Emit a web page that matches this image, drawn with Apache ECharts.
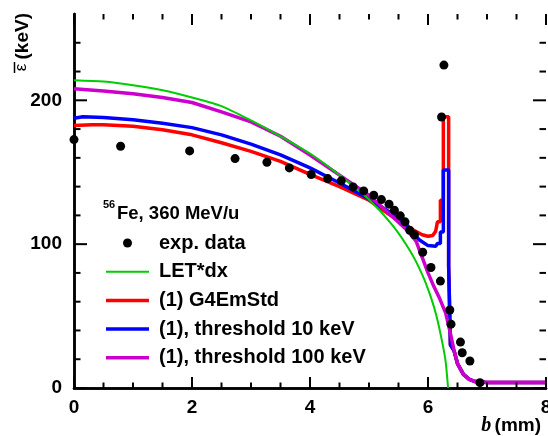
<!DOCTYPE html>
<html><head><meta charset="utf-8">
<script src="https://cdn.jsdelivr.net/npm/echarts@6/dist/echarts.min.js"></script>
<style>html,body{margin:0;padding:0;background:#fff}#c{width:548px;height:436px}</style>
</head><body><div id="c"></div>
<script>
// ---- data ----
const expB = [0.00,0.79,1.96,2.73,3.27,3.65,4.02,4.30,4.53,4.73,4.91,5.08,5.21,5.34,5.43,5.53,5.61,5.69,5.77,5.91,6.05,6.21,6.23,6.27,6.37,6.39,6.55,6.58,6.71,6.88];
const expV = [172.7,168.1,164.8,159.5,156.9,153.0,148.4,145.6,144.0,139.8,137.0,134.0,131.0,127.8,123.6,119.7,115.5,109.7,106.5,94.4,83.8,74.3,188.4,224.5,54.2,44.4,31.9,24.5,18.8,3.7];

const letB = [0,0.5,1.0,1.5,2.0,2.5,3.0,3.5,4.0,4.5,5.0,5.4,5.7,5.9,6.05,6.15,6.25,6.3,6.34];
const letV = [214,213,210.5,207,202,196,186,175,163,148,131,113,95,79,63,49,30,18,0];

const stdB = [0,0.3,0.5,1.0,1.5,2.0,2.5,3.0,3.5,4.0,4.5,5.0,5.4,5.65,5.9,6.0,6.08,6.13,6.16,6.16,6.21,6.21,6.26,6.26,6.35,6.35,6.38,6.38,6.44,6.5,6.6,6.7,6.8,7.0,7.5,8.0];
const stdV = [182.5,183,183,182,179.5,176,170.5,164.5,157.5,148.5,140,130.5,119,112,106.5,105.5,106,109,109,115.5,115.5,130.5,130.5,188.5,188.5,85,85,30,26,17,9.5,6,4.5,3.8,3.8,3.8];

const th10B = [0,0.15,0.5,1.0,1.5,2.0,2.5,3.0,3.5,4.0,4.5,5.0,5.4,5.65,5.85,6.0,6.13,6.16,6.16,6.21,6.21,6.26,6.26,6.35,6.35,6.38,6.38,6.44,6.5,6.6,6.7,6.8,7.0,7.5,8.0];
const th10V = [187.5,188.5,188,186.5,184,181,176,169.5,162,153,142.5,131.5,121,113,103,99,98.5,99,100.5,100.5,108.5,108.5,151.5,151.5,85,85,30,26,17,9.5,6,4.5,3.8,3.8,3.8];

const th100B = [0,0.5,1.0,1.5,2.0,2.5,3.0,3.5,4.0,4.5,5.0,5.4,5.65,5.8,5.9,6.0,6.1,6.2,6.3,6.38,6.44,6.5,6.6,6.7,6.8,7.0,7.5,8.0];
const th100V = [208,206.5,204.5,202,198.5,192,185,175,162,148,134,119,109.5,102,91,80,70.5,62,52,38,26.5,17,9.5,6,4.5,3.8,3.8,3.8];

const seriesNames = ['exp. data','LET*dx','(1) G4EmStd','(1), threshold 10 keV','(1), threshold 100 keV'];
const xTickLabels = ['0','2','4','6','8'];
const yTickLabels = ['0','100','200'];
const xMajorTicks = [0,2,4,6,8];
const xMinorTicks = [0.5,1,1.5,2.5,3,3.5,4.5,5,5.5,6.5,7,7.5];
const yMajorTicks = [0,100,200];
const yMinorTicks = [20,40,60,80,120,140,160,180,220,240];
const titleSup = '56';
const titleMain = 'Fe, 360 MeV/u';

// ---- chart ----
const FONT = 'Liberation Sans';
const blk = '#000';
const X_MIN = 0, X_MAX = 8, Y_MIN = 0, Y_MAX = 260;
const pair = (xs, ys) => xs.map((x, i) => [x, ys[i]]);
const axLine = {show:true, lineStyle:{color:blk, width:2.5}};

function xAx(pos, labels){
  return {type:'value', position:pos, min:X_MIN, max:X_MAX, interval:2,
    axisLine:axLine, axisTick:{show:false}, minorTick:{show:false},
    splitLine:{show:false},
    axisLabel: labels ? {show:true, margin:10, color:blk, fontFamily:FONT, fontWeight:'bold', fontSize:19,
      formatter: v => xTickLabels.includes(String(v)) ? String(v) : ''} : {show:false}};
}
function yAx(pos, labels){
  return {type:'value', position:pos, min:Y_MIN, max:Y_MAX, interval:100,
    axisLine:axLine, axisTick:{show:false}, splitLine:{show:false},
    axisLabel: labels ? {show:true, margin:12, color:blk, fontFamily:FONT, fontWeight:'bold', fontSize:19,
      formatter: v => yTickLabels.includes(String(v)) ? String(v) : ''} : {show:false}};
}

const lineSer = (name, xs, ys, color, w, z) => ({
  name, type:'line', data:pair(xs, ys), symbol:'none', showSymbol:false,
  lineStyle:{color, width:w}, itemStyle:{color}, z
});

const tickLine = (x1,y1,x2,y2) => ({type:'line', shape:{x1,y1,x2,y2}, style:{stroke:blk, lineWidth:2}});
// tick marks on bottom+top frame (x ticks) and left+right frame (y ticks), positioned via the axes' scales
function xTickSeries(vals, len){
  return {type:'custom', data:vals.map(v => [v, Y_MIN]), z:7, silent:true, clip:false,
    renderItem:(params, api) => {
      const v = api.value(0);
      const b = api.coord([v, Y_MIN]), t = api.coord([v, Y_MAX]);
      return {type:'group', children:[tickLine(b[0], b[1], b[0], b[1]-len), tickLine(t[0], t[1], t[0], t[1]+len)]};
    }};
}
function yTickSeries(vals, len){
  return {type:'custom', data:vals.map(v => [X_MIN, v]), z:7, silent:true, clip:false,
    renderItem:(params, api) => {
      const v = api.value(1);
      const l = api.coord([X_MIN, v]), r = api.coord([X_MAX, v]);
      return {type:'group', children:[tickLine(l[0], l[1], l[0]+len, l[1]), tickLine(r[0], r[1], r[0]-len, r[1])]};
    }};
}

const chart = echarts.init(document.getElementById('c'));
chart.setOption({
  animation:false,
  backgroundColor:'#fff',
  grid:{left:74, right:2, top:14, bottom:48, containLabel:false, outerBoundsMode:'none'},
  xAxis:[xAx('bottom', true), xAx('top', false)],
  yAxis:[yAx('left', true), yAx('right', false)],
  legend:{
    orient:'vertical', left:106, top:233, padding:0, itemWidth:43, itemHeight:9, itemGap:8.7,
    selectedMode:false,
    textStyle:{fontFamily:FONT, fontWeight:'bold', fontSize:20, color:blk, lineHeight:20, padding:[0,0,0,5]},
    data:[
      {name:seriesNames[0], icon:'circle'},
      {name:seriesNames[1], icon:'path://M0,0H43V2H0Z'},
      {name:seriesNames[2], icon:'path://M0,0H43V3.5H0Z'},
      {name:seriesNames[3], icon:'path://M0,0H43V3.5H0Z'},
      {name:seriesNames[4], icon:'path://M0,0H43V3.5H0Z'}
    ]
  },
  series:[
    lineSer(seriesNames[2], stdB, stdV, '#ff0000', 3.5, 2),
    lineSer(seriesNames[3], th10B, th10V, '#0000ff', 3.5, 3),
    lineSer(seriesNames[4], th100B, th100V, '#cc00cc', 3.5, 4),
    Object.assign(lineSer(seriesNames[1], letB, letV, '#00cc00', 2, 5), {smooth:0.25}),
    {name:seriesNames[0], type:'scatter', data:pair(expB, expV), symbol:'circle', symbolSize:9,
     itemStyle:{color:blk, opacity:1}, z:6},
    xTickSeries(xMajorTicks, 11),
    xTickSeries(xMinorTicks, 5.5),
    yTickSeries(yMajorTicks, 13),
    yTickSeries(yMinorTicks, 6.5)
  ],
  graphic:[
    {type:'text', x:103, y:205, z:10, style:{text:titleSup, fontFamily:FONT, fontWeight:'bold', fontSize:11, fill:blk, align:'left', verticalAlign:'middle'}},
    {type:'text', x:117, y:213.5, z:10, style:{text:titleMain, fontFamily:FONT, fontWeight:'bold', fontSize:18.5, fill:blk, align:'left', verticalAlign:'middle'}},
    {type:'text', x:22.5, y:13, rotation:Math.PI/2, z:10, style:{text:'(keV)', fontFamily:FONT, fontWeight:'bold', fontSize:19, fill:blk, align:'right', verticalAlign:'middle'}},
    {type:'text', x:21, y:67.5, rotation:Math.PI/2, z:10, style:{text:'ε', fontFamily:FONT, fontWeight:'normal', fontSize:17, fill:blk, align:'center', verticalAlign:'middle'}},
    {type:'line', z:10, shape:{x1:14.5, y1:62, x2:14.5, y2:73}, style:{stroke:blk, lineWidth:1.5}},
    {type:'text', x:541, y:426, z:10, style:{text:'{i|b} {n|(mm)}', align:'right', verticalAlign:'middle', fill:blk,
      rich:{i:{fontFamily:'Liberation Serif', fontStyle:'italic', fontWeight:'bold', fontSize:20, fill:blk},
            n:{fontFamily:FONT, fontWeight:'bold', fontSize:19, fill:blk}}}}
  ]
});
</script></body></html>
